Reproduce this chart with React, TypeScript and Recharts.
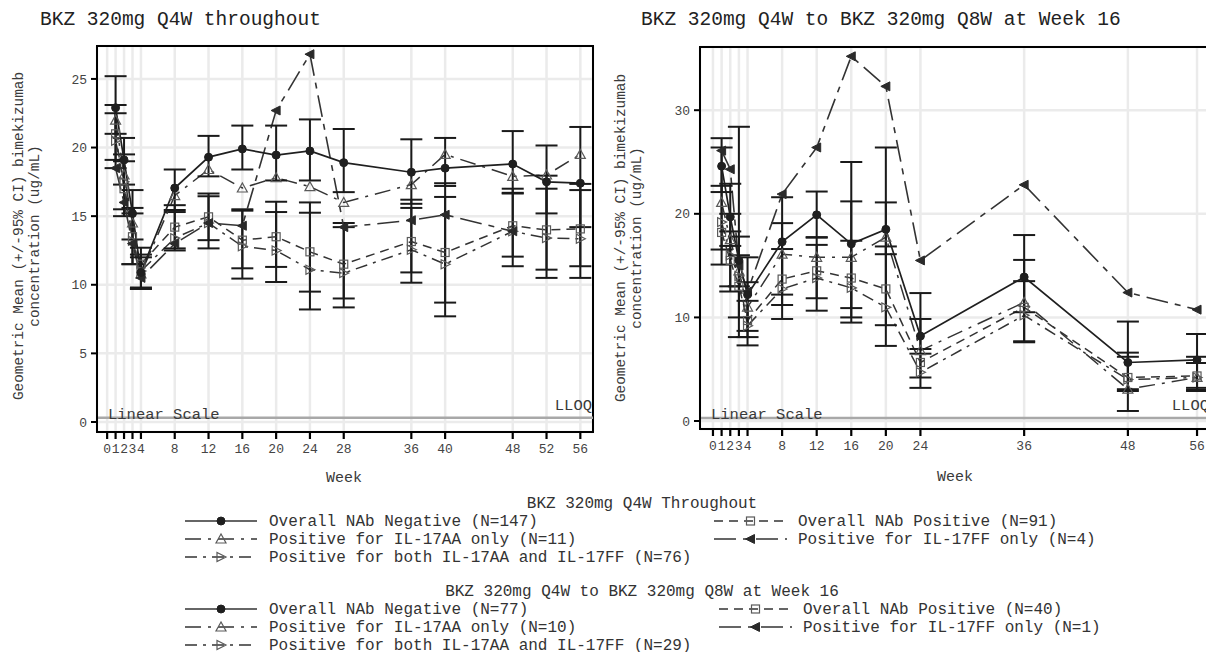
import React from 'react';
import {
  LineChart,
  Line,
  XAxis,
  YAxis,
  CartesianGrid,
  ErrorBar,
  ReferenceLine,
  ReferenceArea,
} from 'recharts';

const MONO = '"Liberation Mono", "Courier New", monospace';
const INK = '#1f1f1f';
const TEXT = '#333';
const GRID = '#ebebeb';
const LLOQ = 0.3;

// ---------- Panel A: BKZ 320mg Q4W throughout ----------
const weeksA = [1, 2, 3, 4, 8, 12, 16, 20, 24, 28, 36, 40, 48, 52, 56];
const xTicksA = [0, 1, 2, 3, 4, 8, 12, 16, 20, 24, 28, 36, 40, 48, 52, 56];
const yTicksA = [0, 5, 10, 15, 20, 25];

const negMeanA = [22.9, 19.1, 15.2, 10.9, 17.05, 19.3, 19.9, 19.45, 19.75, 18.9, 18.2, 18.5, 18.8, 17.5, 17.4];
const negLowA = [21.0, 17.3, 13.3, 9.7, 15.45, 17.9, 18.4, 17.6, 17.6, 16.75, 15.9, 17.2, 16.65, 15.2, 14.2];
const negHighA = [25.2, 20.7, 16.9, 12.0, 18.4, 20.85, 21.6, 21.6, 22.05, 21.35, 20.6, 20.7, 21.2, 20.15, 21.5];

const posMeanA = [21.0, 17.0, 13.5, 11.5, 14.2, 14.95, 13.25, 13.5, 12.4, 11.5, 13.15, 12.35, 14.3, 14.0, 14.07];
const posLowA = [19.1, 15.0, 11.5, 9.7, 12.65, 13.25, 11.2, 11.3, 9.5, 9.0, 10.9, 8.7, 12.05, 11.1, 11.35];
const posHighA = [23.1, 19.0, 15.6, 12.7, 15.8, 16.65, 15.5, 16.05, 16.0, 14.5, 16.2, 17.4, 17.0, 17.95, 17.35];

const aaMeanA = [22.0, 18.0, 14.5, 10.8, 16.5, 18.4, 17.05, 17.8, 17.15, 16.0, 17.3, 19.5, 17.9, 18.0, 19.5];

const ffMeanA = [18.5, 16.0, 13.0, 10.5, 13.0, 14.5, 14.3, 22.7, 26.8, 14.2, 14.7, 15.1, 13.9, null, null];

const bothMeanA = [20.5, 17.5, 13.2, 11.0, 13.4, 14.5, 12.8, 12.5, 11.1, 10.85, 12.55, 11.5, 13.9, 13.4, 13.35];
const bothLowA = [18.5, 15.5, 11.5, 9.8, 12.5, 12.65, 10.45, 10.2, 8.2, 8.35, 10.15, 7.7, 11.35, 10.5, 10.5];
const bothHighA = [22.5, 19.5, 15.2, 12.2, 15.3, 16.45, 15.4, 15.3, 15.25, 14.2, 15.6, 16.4, 16.7, 17.0, 16.9];

const namesA = [
  'Overall NAb Negative (N=147)',
  'Overall NAb Positive (N=91)',
  'Positive for IL-17AA only (N=11)',
  'Positive for IL-17FF only (N=4)',
  'Positive for both IL-17AA and IL-17FF (N=76)',
];

// ---------- Panel B: BKZ 320mg Q4W to BKZ 320mg Q8W at Week 16 ----------
const weeksB = [1, 2, 3, 4, 8, 12, 16, 20, 24, 36, 48, 56];
const xTicksB = [0, 1, 2, 3, 4, 8, 12, 16, 20, 24, 36, 48, 56];
const yTicksB = [0, 10, 20, 30];

const negMeanB = [24.6, 19.7, 15.5, 12.2, 17.3, 19.9, 17.1, 18.5, 8.2, 13.9, 5.65, 5.9];
const negLowB = [22.1, 16.9, 13.0, 8.7, 12.2, 17.75, 10.9, 16.1, 6.95, 10.5, 3.07, 2.9];
const negHighB = [27.3, 22.9, 17.8, 15.8, 21.6, 22.15, 21.2, 21.1, 12.35, 17.95, 9.6, 8.4];

const posMeanB = [18.2, 15.5, 13.0, 9.7, 13.7, 14.5, 13.8, 12.75, 5.65, 10.97, 4.2, 4.35];
const posLowB = [15.1, 13.0, 10.0, 8.1, 11.2, 11.85, 10.0, 9.25, 4.2, 7.7, 0.97, 3.0];
const posHighB = [22.7, 18.3, 16.0, 13.4, 16.6, 17.7, 17.4, 16.85, 9.85, 15.55, 6.6, 6.2];

const aaMeanB = [21.1, 17.5, 14.5, 11.0, 16.1, 15.8, 15.8, 17.75, 6.8, 11.45, 3.07, 4.2];

const ffMeanB = [26.1, 24.3, 15.0, 12.5, 21.9, 26.4, 35.2, 32.3, 15.5, 22.8, 12.4, 10.75];

const bothMeanB = [19.2, 16.0, 14.0, 9.2, 12.75, 13.8, 12.85, 10.97, 4.7, 10.2, 4.0, 4.2];
const bothLowB = [16.55, 12.5, 8.1, 7.3, 9.85, 10.65, 9.5, 7.25, 3.2, 7.6, 2.9, 3.2];
const bothHighB = [26.4, 20.0, 28.4, 11.6, 19.1, 17.0, 25.0, 26.4, 6.5, 13.5, 6.2, 5.6];

const namesB = [
  'Overall NAb Negative (N=77)',
  'Overall NAb Positive (N=40)',
  'Positive for IL-17AA only (N=10)',
  'Positive for IL-17FF only (N=1)',
  'Positive for both IL-17AA and IL-17FF (N=29)',
];

// ---------- series styling ----------
type MarkerKind = 'circle' | 'square' | 'triUp' | 'triLeft' | 'triRight';
interface SeriesStyle {
  key: string;
  dash?: string;
  marker: MarkerKind;
  width: number;
}
const seriesKeys = ['neg', 'pos', 'aa', 'ff', 'both'];
const STYLES: Record<string, SeriesStyle> = {
  neg: { key: 'neg', marker: 'circle', width: 1.7 },
  pos: { key: 'pos', dash: '9 6', marker: 'square', width: 1.5 },
  aa: { key: 'aa', dash: '16 7 3 7', marker: 'triUp', width: 1.5 },
  ff: { key: 'ff', dash: '22 7 6 7', marker: 'triLeft', width: 1.6 },
  both: { key: 'both', dash: '12 6 3 6', marker: 'triRight', width: 1.5 },
};
// drawing order: bottom to top
const drawOrder = ['both', 'aa', 'pos', 'ff', 'neg'];

type Num = number | null;
interface SeriesData {
  key: string;
  mean: Num[];
  low?: number[];
  high?: number[];
}

function buildRows(weeks: number[], series: SeriesData[]) {
  return weeks.map((w, i) => {
    const row: Record<string, any> = { week: w };
    series.forEach((s) => {
      const v = s.mean[i];
      row[s.key] = v;
      if (v != null && s.low && s.high) {
        row[s.key + 'Err'] = [v - s.low[i], s.high[i] - v];
      }
    });
    return row;
  });
}

const rowsA = buildRows(weeksA, [
  { key: 'neg', mean: negMeanA, low: negLowA, high: negHighA },
  { key: 'pos', mean: posMeanA, low: posLowA, high: posHighA },
  { key: 'aa', mean: aaMeanA },
  { key: 'ff', mean: ffMeanA },
  { key: 'both', mean: bothMeanA, low: bothLowA, high: bothHighA },
]);

const rowsB = buildRows(weeksB, [
  { key: 'neg', mean: negMeanB, low: negLowB, high: negHighB },
  { key: 'pos', mean: posMeanB, low: posLowB, high: posHighB },
  { key: 'aa', mean: aaMeanB },
  { key: 'ff', mean: ffMeanB },
  { key: 'both', mean: bothMeanB, low: bothLowB, high: bothHighB },
]);

const errorKeys = new Set(['neg', 'pos', 'both']);

// ---------- markers ----------
function Marker({ kind, cx, cy }: { kind: MarkerKind; cx: number; cy: number }) {
  const open = { fill: '#fff', fillOpacity: 0, stroke: '#5a5a5a', strokeWidth: 1.2 };
  switch (kind) {
    case 'circle':
      return <circle cx={cx} cy={cy} r={4} fill={INK} stroke={INK} />;
    case 'square':
      return <rect x={cx - 4} y={cy - 4} width={8} height={8} {...open} />;
    case 'triUp':
      return (
        <polygon points={`${cx},${cy - 5} ${cx - 5},${cy + 4} ${cx + 5},${cy + 4}`} {...open} />
      );
    case 'triLeft':
      return (
        <polygon
          points={`${cx - 5},${cy} ${cx + 4},${cy - 4.5} ${cx + 4},${cy + 4.5}`}
          fill="#2a2a2a"
          stroke="#2a2a2a"
        />
      );
    case 'triRight':
    default:
      return (
        <polygon points={`${cx + 5},${cy} ${cx - 4},${cy - 4.5} ${cx - 4},${cy + 4.5}`} {...open} />
      );
  }
}

const makeDot = (kind: MarkerKind) => (props: any) => {
  const { cx, cy, index, value } = props;
  const k = `dot-${kind}-${index}`;
  if (cx == null || cy == null || value == null || Number.isNaN(cy)) return <g key={k} />;
  return (
    <g key={k}>
      <Marker kind={kind} cx={cx} cy={cy} />
    </g>
  );
};

// LLOQ reference line labels
const LloqLabels = (props: any) => {
  const vb = props.viewBox;
  if (!vb) return null;
  const { x, y, width } = vb;
  return (
    <g fontFamily={MONO} fontSize={15.5} fill="#3a3a3a">
      <text x={x + 11} y={y + 1}>
        Linear Scale
      </text>
      <text x={x + width - 1} y={y - 8} textAnchor="end">
        LLOQ
      </text>
    </g>
  );
};

interface PanelProps {
  rows: Record<string, any>[];
  width: number;
  height: number;
  marginTop: number;
  marginRight: number;
  yAxisWidth: number;
  xAxisHeight: number;
  xDomain: [number, number];
  yDomain: [number, number];
  xTicks: number[];
  yTicks: number[];
}

function Panel(p: PanelProps) {
  return (
    <LineChart
      width={p.width}
      height={p.height}
      data={p.rows}
      margin={{ top: p.marginTop, right: p.marginRight, bottom: 0, left: 0 }}
    >
      <CartesianGrid stroke={GRID} strokeWidth={2.5} />
      <XAxis
        type="number"
        dataKey="week"
        domain={p.xDomain}
        ticks={p.xTicks}
        interval={0}
        height={p.xAxisHeight}
        tickSize={7}
        tickMargin={5}
        tick={{ fontFamily: MONO, fontSize: 13, fill: '#444' }}
        tickLine={{ stroke: '#000', strokeWidth: 2.2 }}
        axisLine={{ stroke: '#000', strokeWidth: 2 }}
        allowDataOverflow
      />
      <YAxis
        type="number"
        domain={p.yDomain}
        ticks={p.yTicks}
        interval={0}
        width={p.yAxisWidth}
        tickSize={6}
        tickMargin={4}
        tick={{ fontFamily: MONO, fontSize: 13, fill: '#444' }}
        tickLine={{ stroke: '#000', strokeWidth: 2 }}
        axisLine={{ stroke: '#000', strokeWidth: 2 }}
        allowDataOverflow
      />
      <ReferenceLine y={LLOQ} stroke="#a8a8a8" strokeWidth={2.5} label={<LloqLabels />} />
      {drawOrder.map((k) => {
        const s = STYLES[k];
        return (
          <Line
            key={k}
            type="linear"
            dataKey={k}
            stroke={k === 'neg' ? INK : '#333'}
            strokeWidth={s.width}
            strokeDasharray={s.dash}
            dot={makeDot(s.marker)}
            activeDot={false}
            connectNulls
            isAnimationActive={false}
          >
            {errorKeys.has(k) && (
              <ErrorBar
                dataKey={k + 'Err'}
                direction="y"
                width={11}
                stroke="#1a1a1a"
                strokeWidth={2}
                isAnimationActive={false}
              />
            )}
          </Line>
        );
      })}
      <ReferenceArea
        x1={p.xDomain[0]}
        x2={p.xDomain[1]}
        y1={p.yDomain[0]}
        y2={p.yDomain[1]}
        fill="none"
        fillOpacity={0}
        stroke="#000"
        strokeWidth={2}
        ifOverflow="visible"
      />
    </LineChart>
  );
}

// ---------- legend ----------
interface LegendBlockProps {
  title: string;
  names: string[];
  top: number;
  rightLine: [number, number];
  rightText: number;
}

function LegendSymbol({ k, x1, x2, y }: { k: string; x1: number; x2: number; y: number }) {
  const s = STYLES[k];
  const mid = (x1 + x2) / 2;
  return (
    <g>
      <line x1={x1} x2={x2} y1={y} y2={y} stroke="#333" strokeWidth={1.5} strokeDasharray={s.dash} />
      <Marker kind={s.marker} cx={mid} cy={y} />
    </g>
  );
}

function LegendBlock({ title, names, top, rightLine, rightText }: LegendBlockProps) {
  const leftLine: [number, number] = [185, 257];
  const leftText = 269;
  const rowY = [top + 18, top + 18, top + 36, top + 36, top + 54];
  const isRight = [false, true, false, true, false];
  return (
    <g fontFamily={MONO} fontSize={16} fill={TEXT}>
      <text x={642} y={top + 5} textAnchor="middle">
        {title}
      </text>
      {seriesKeys.map((k, i) => {
        const line = isRight[i] ? rightLine : leftLine;
        const tx = isRight[i] ? rightText : leftText;
        return (
          <g key={k}>
            <LegendSymbol k={k} x1={line[0]} x2={line[1]} y={rowY[i]} />
            <text x={tx} y={rowY[i] + 5}>
              {names[i]}
            </text>
          </g>
        );
      })}
    </g>
  );
}

export default function App() {
  return (
    <div
      style={{
        position: 'absolute',
        left: 0,
        top: 0,
        width: 1206,
        height: 652,
        overflow: 'hidden',
        background: '#fff',
      }}
    >
      <div style={{ position: 'absolute', left: 0, top: 0 }}>
        <Panel
          rows={rowsA}
          width={600}
          height={500}
          marginTop={46}
          marginRight={7}
          yAxisWidth={97}
          xAxisHeight={68}
          xDomain={[-1.2, 57.5]}
          yDomain={[-0.73, 27.4]}
          xTicks={xTicksA}
          yTicks={yTicksA}
        />
      </div>
      <div style={{ position: 'absolute', left: 600, top: 0 }}>
        <Panel
          rows={rowsB}
          width={620}
          height={500}
          marginTop={47}
          marginRight={10}
          yAxisWidth={100}
          xAxisHeight={71}
          xDomain={[-1.5, 57.5]}
          yDomain={[-0.77, 36.1]}
          xTicks={xTicksB}
          yTicks={yTicksB}
        />
      </div>
      <svg
        width={1206}
        height={652}
        style={{ position: 'absolute', left: 0, top: 0, pointerEvents: 'none' }}
      >
        <g fontFamily={MONO} fill="#222">
          <text x={40} y={25} fontSize={19.5}>
            BKZ 320mg Q4W throughout
          </text>
          <text x={641} y={25} fontSize={19.5}>
            BKZ 320mg Q4W to BKZ 320mg Q8W at Week 16
          </text>
        </g>
        <g fontFamily={MONO} fontSize={14.4} fill="#3a3a3a" textAnchor="middle">
          <text transform="translate(23,236) rotate(-90)">Geometric Mean (+/-95% CI) bimekizumab</text>
          <text transform="translate(39,236) rotate(-90)">concentration (ug/mL)</text>
          <text transform="translate(625,238) rotate(-90)">Geometric Mean (+/-95% CI) bimekizumab</text>
          <text transform="translate(641,238) rotate(-90)">concentration (ug/mL)</text>
          <text x={344} y={482} fontSize={15}>
            Week
          </text>
          <text x={955} y={481} fontSize={15}>
            Week
          </text>
        </g>
        <LegendBlock
          title="BKZ 320mg Q4W Throughout"
          names={namesA}
          top={503}
          rightLine={[714, 787]}
          rightText={798}
        />
        <LegendBlock
          title="BKZ 320mg Q4W to BKZ 320mg Q8W at Week 16"
          names={namesB}
          top={591}
          rightLine={[719, 792]}
          rightText={803}
        />
      </svg>
    </div>
  );
}
